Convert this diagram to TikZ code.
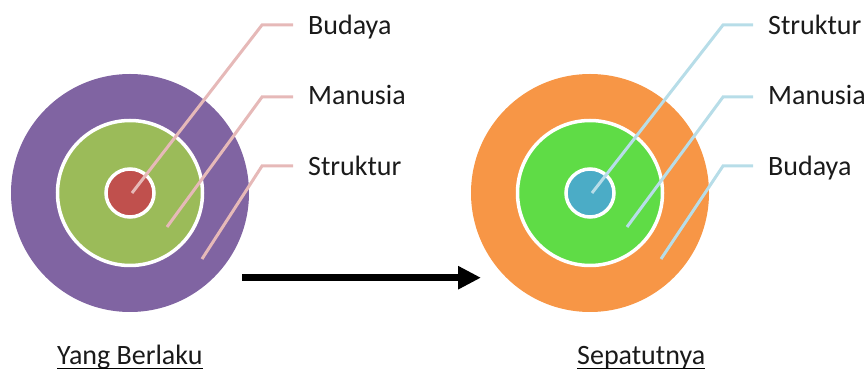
\documentclass[tikz,border=0pt]{standalone}
\usepackage{fontspec}
\setmainfont{Carlito}
\usetikzlibrary{arrows.meta}
\definecolor{cpurple}{HTML}{8064A2}
\definecolor{colive}{HTML}{9BBB59}
\definecolor{cred}{HTML}{C0504D}
\definecolor{corange}{HTML}{F79646}
\definecolor{cgreen}{RGB}{95,220,70}
\definecolor{cblue}{HTML}{4BACC6}
\definecolor{cpink}{HTML}{E6B9B8}
\definecolor{clblue}{HTML}{B7DDE8}
\definecolor{ctext}{HTML}{1A1A1A}
\tikzset{
  ring/.style={circle, inner sep=0pt, draw=white, line width=3.5pt},
  outerdisc/.style={circle, inner sep=0pt, minimum size=238pt},
  middisc/.style={ring, minimum size=145pt},
  coredisc/.style={ring, minimum size=48pt},
  leader/.style={line width=3pt},
  lbl/.style={anchor=base west, inner sep=0pt, text=ctext, font=\fontsize{28}{31}\selectfont},
  captext/.style={anchor=base west, inner sep=0pt, text=ctext, font=\fontsize{28}{31}\selectfont},
}
\begin{document}
\begin{tikzpicture}[x=1pt,y=-1pt]
\useasboundingbox (0,0) rectangle (868,371);
% left target
\node[outerdisc, fill=cpurple] (L3) at (130,193) {};
\node[middisc, fill=colive] (L2) at (130,193) {};
\node[coredisc, fill=cred] (L1) at (130,193) {};
% right target
\node[outerdisc, fill=corange] (R3) at (590,193) {};
\node[middisc, fill=cgreen] (R2) at (590,193) {};
\node[coredisc, fill=cblue] (R1) at (590,193) {};
% left labels
\node[lbl] (lb) at (308,35) {Budaya};
\node[lbl] (lm) at (308,105) {Manusia};
\node[lbl] (ls) at (308,176) {Struktur};
% right labels
\node[lbl] (rs) at (768,35) {Struktur};
\node[lbl] (rm) at (768,105) {Manusia};
\node[lbl] (rb) at (768,176) {Budaya};
% left leader coordinates
\coordinate (lb0) at (132,193);
\coordinate (lm0) at (167,227);
\coordinate (ls0) at (202,259);
\coordinate (lb1) at (262,25);
\coordinate (lm1) at (262,97);
\coordinate (ls1) at (262,166);
\coordinate (lb2) at (293,25);
\coordinate (lm2) at (293,97);
\coordinate (ls2) at (293,166);
\draw[leader, cpink] (lb0) -- (lb1) -- (lb2);
\draw[leader, cpink] (lm0) -- (lm1) -- (lm2);
\draw[leader, cpink] (ls0) -- (ls1) -- (ls2);
% right leader coordinates
\coordinate (rs0) at (592,193);
\coordinate (rm0) at (627,227);
\coordinate (rb0) at (661,259);
\coordinate (rs1) at (723,25);
\coordinate (rm1) at (723,97);
\coordinate (rb1) at (723,166);
\coordinate (rs2) at (753,25);
\coordinate (rm2) at (753,97);
\coordinate (rb2) at (753,166);
\draw[leader, clblue] (rs0) -- (rs1) -- (rs2);
\draw[leader, clblue] (rm0) -- (rm1) -- (rm2);
\draw[leader, clblue] (rb0) -- (rb1) -- (rb2);
% arrow
\coordinate (a0) at (242,277.7);
\coordinate (a1) at (481,277.7);
\draw[line width=6.5pt, -{Triangle[length=23pt,width=22pt]}] (a0) -- (a1);
% captions
\node[captext] (cl) at (57,365) {Yang Berlaku};
\node[captext] (cr) at (577,365) {Sepatutnya};
\draw[line width=1.3pt] ([yshift=-3.5pt]cl.base west) -- ([yshift=-3.5pt]cl.base east);
\draw[line width=1.3pt] ([yshift=-3.5pt]cr.base west) -- ([yshift=-3.5pt]cr.base east);
\end{tikzpicture}
\end{document}
